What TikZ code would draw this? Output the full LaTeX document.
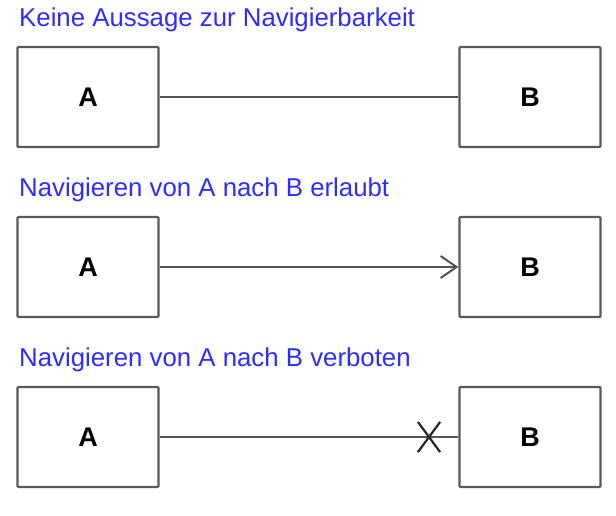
\documentclass[tikz,border=0pt]{standalone}
\usepackage{fontspec}
\setmainfont{Liberation Sans}
\usetikzlibrary{arrows.meta,shapes.misc}
\definecolor{titleblue}{RGB}{45,45,255}

\begin{document}
\begin{tikzpicture}[
  x=1pt, y=-1pt,
  class/.style={draw=black!65, line width=2.2pt, rounded corners=1pt,
    minimum width=141pt, minimum height=100pt, inner sep=0pt,
    font=\fontsize{27}{31}\selectfont\bfseries},
  heading/.style={anchor=base west, inner sep=0pt, text=titleblue,
    font=\fontsize{25.8}{30}\selectfont},
  assoc/.style={draw=black!68, line width=2pt},
  navigable/.style={assoc, -{Straight Barb[length=16pt, width=22pt]}},
  forbidden/.style={cross out, draw=black!85, line width=2.2pt,
    minimum width=20pt, minimum height=28pt, inner sep=0pt}
]
\useasboundingbox (0,0) rectangle (616,515);

\node[heading] (title1) at (19,26) {Keine Aussage zur Navigierbarkeit};
\node[class] (a1) at (88,97) {A};
\node[class] (b1) at (530,97) {B};

\node[heading] (title2) at (19,196) {Navigieren von A nach B erlaubt};
\node[class] (a2) at (88,267) {A};
\node[class] (b2) at (530,267) {B};

\node[heading] (title3) at (19,366) {Navigieren von A nach B verboten};
\node[class] (a3) at (88,437) {A};
\node[class] (b3) at (530,437) {B};

\draw[assoc] (a1.east) -- (b1.west);
\draw[navigable] (a2.east) -- (b2.west);
\draw[assoc] (a3.east) -- (b3.west);
\node[forbidden] (x3) at (429,437) {};

\end{tikzpicture}
\end{document}
